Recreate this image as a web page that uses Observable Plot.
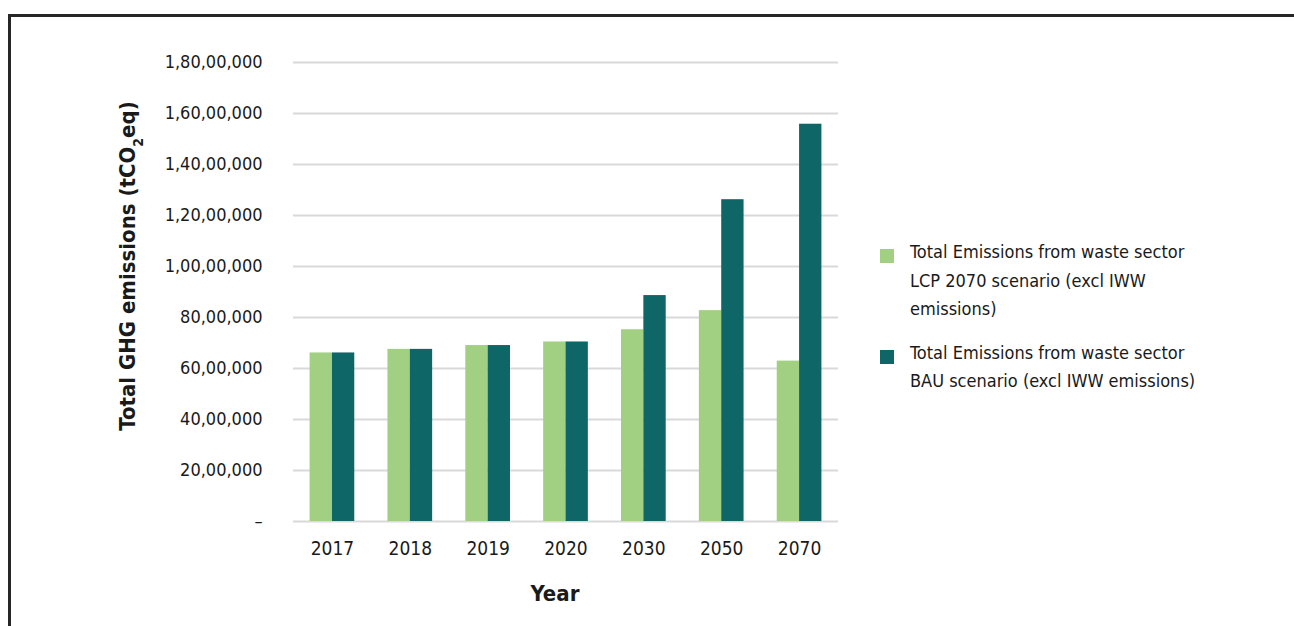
<!DOCTYPE html>
<html>
<head>
<meta charset="utf-8">
<script src="https://cdn.jsdelivr.net/npm/d3@7"></script>
<script src="https://cdn.jsdelivr.net/npm/@observablehq/plot@0.6"></script>
<style>
  html, body { margin: 0; padding: 0; background: #fff; }
  body { width: 1294px; height: 626px; position: relative; overflow: hidden;
         font-family: "DejaVu Sans Condensed", "DejaVu Sans", sans-serif; font-stretch: condensed; }
  #frame { position: absolute; left: 8px; top: 14px; width: 1400px; height: 700px;
           border-top: 3px solid #262626; border-left: 3px solid #262626; box-sizing: border-box; }
  #chart { position: absolute; left: 0; top: 0; }
  #legend { position: absolute; left: 880px; top: 238px; color: #1a1a1a; font-size: 18px; line-height: 28.5px; }
  .item { display: flex; align-items: flex-start; margin-bottom: 15px; }
  .sw { width: 14px; height: 14px; margin-top: 11px; margin-right: 16px; flex: none; }
</style>
</head>
<body>
<div id="frame"></div>
<div id="chart"></div>
<div id="legend"></div>
<script>
const years = ["2017", "2018", "2019", "2020", "2030", "2050", "2070"];
const lcpValues = [6610000, 6750000, 6900000, 7040000, 7520000, 8270000, 6290000];
const bauValues = [6610000, 6750000, 6900000, 7040000, 8860000, 12620000, 15580000];
const seriesNames = [
  "Total Emissions from waste sector LCP 2070 scenario (excl IWW emissions)",
  "Total Emissions from waste sector BAU scenario (excl IWW emissions)"
];
const seriesColors = ["#a2d083", "#0f6667"];
const yTicks = [0, 2000000, 4000000, 6000000, 8000000, 10000000, 12000000, 14000000, 16000000, 18000000];

function indianFormat(v) {
  if (v === 0) return "\u2013";
  const s = String(Math.round(v));
  if (s.length <= 3) return s;
  let last3 = s.slice(-3);
  let rest = s.slice(0, -3);
  const parts = [];
  while (rest.length > 2) { parts.unshift(rest.slice(-2)); rest = rest.slice(0, -2); }
  if (rest.length) parts.unshift(rest);
  return parts.join(",") + "," + last3;
}

const data = [];
years.forEach((y, i) => {
  data.push({year: y, series: 0, value: lcpValues[i]});
  data.push({year: y, series: 1, value: bauValues[i]});
});

const W = 1294, H = 626;
const mL = 293, mR = W - 838, mT = 62, mB = H - 521;
const step = (838 - 293) / years.length;
const bandW = 44.7;
const pIn = 1 - bandW / step;
const half = bandW / 2;
const font = '"DejaVu Sans Condensed", "DejaVu Sans", sans-serif';

const plot = Plot.plot({
  width: W,
  height: H,
  marginLeft: mL,
  marginRight: mR,
  marginTop: mT,
  marginBottom: mB,
  style: {fontFamily: font, background: "transparent", color: "#1a1a1a"},
  x: {domain: years, paddingInner: pIn, paddingOuter: pIn / 2, round: false, label: null},
  y: {domain: [0, 18000000], label: null},
  marks: [
    Plot.ruleY(yTicks, {stroke: "#d9d9d9", strokeWidth: 2}),
    Plot.barY(data.filter(d => d.series === 0), {x: "year", y: "value", fill: seriesColors[0], insetRight: half}),
    Plot.barY(data.filter(d => d.series === 1), {x: "year", y: "value", fill: seriesColors[1], insetLeft: half}),
    Plot.axisY({ticks: yTicks, tickSize: 0, tickPadding: 31, tickFormat: indianFormat, fontSize: 18, label: null}),
    Plot.axisX({tickSize: 0, tickPadding: 20, fontSize: 19, label: null})
  ]
});
document.getElementById("chart").appendChild(plot);

const svg = d3.select(plot);
// Y-axis title
const yt = svg.append("text")
  .attr("transform", "translate(135,266) rotate(-90)")
  .attr("text-anchor", "middle")
  .attr("font-size", 22)
  .attr("font-weight", "bold")
  .attr("fill", "#1a1a1a");
yt.append("tspan").text("Total GHG emissions (tCO");
yt.append("tspan").attr("baseline-shift", "sub").attr("font-size", 14).text("2");
yt.append("tspan").text("eq)");
// X-axis title
svg.append("text")
  .attr("x", 555).attr("y", 601)
  .attr("text-anchor", "middle")
  .attr("font-size", 22)
  .attr("font-weight", "bold")
  .attr("fill", "#1a1a1a")
  .text("Year");

// Legend
const legend = d3.select("#legend");
const legendLines = [
  ["Total Emissions from waste sector", "LCP 2070 scenario (excl IWW", "emissions)"],
  ["Total Emissions from waste sector", "BAU scenario (excl IWW emissions)"]
];
legendLines.forEach((lines, i) => {
  const it = legend.append("div").attr("class", "item").attr("title", seriesNames[i]);
  it.append("div").attr("class", "sw").style("background", seriesColors[i]);
  it.append("div").html(lines.join("<br>"));
});
</script>
</body>
</html>
